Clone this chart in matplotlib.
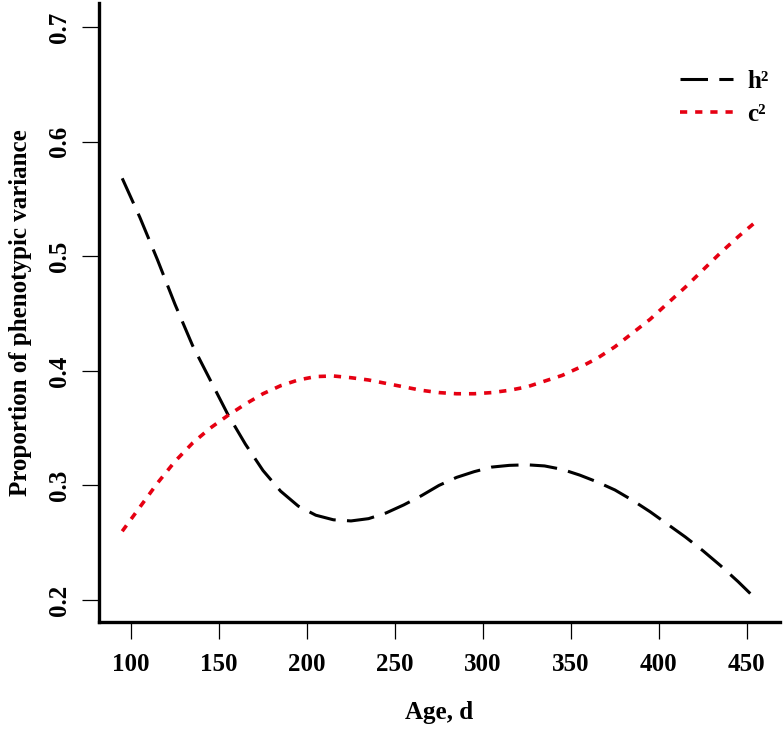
import matplotlib
matplotlib.use('Agg')
import matplotlib.pyplot as plt

# values
age = [95, 105, 115, 125, 135, 145, 155, 165, 175, 185, 195, 205, 215, 225,
       235, 245, 255, 265, 275, 285, 295, 305, 315, 325, 335, 345, 355, 365,
       375, 385, 395, 405, 415, 425, 435, 445, 455]
h2 = [0.568, 0.534, 0.497, 0.458, 0.422, 0.392, 0.362, 0.336, 0.313, 0.295,
      0.282, 0.274, 0.270, 0.269, 0.271, 0.276, 0.283, 0.291, 0.300, 0.307,
      0.312, 0.316, 0.3175, 0.318, 0.317, 0.314, 0.309, 0.303, 0.296, 0.287,
      0.277, 0.266, 0.255, 0.243, 0.230, 0.216, 0.201]
c2 = [0.260, 0.281, 0.302, 0.321, 0.337, 0.350, 0.361, 0.371, 0.380, 0.387,
      0.392, 0.395, 0.3955, 0.394, 0.392, 0.389, 0.386, 0.383, 0.381, 0.380,
      0.380, 0.381, 0.383, 0.386, 0.391, 0.396, 0.403, 0.411, 0.421, 0.433,
      0.445, 0.459, 0.473, 0.488, 0.503, 0.517, 0.530]
xticks = [100, 150, 200, 250, 300, 350, 400, 450]
yticks = [0.2, 0.3, 0.4, 0.5, 0.6, 0.7]

plt.rcParams['font.family'] = ['Liberation Serif', 'DejaVu Serif']
plt.rcParams['font.weight'] = 'bold'

fig = plt.figure(figsize=(7.84, 7.29), dpi=100)
ax = fig.add_axes([99/784, 1-622/729, 681/784, 619/729])

ax.plot(age, h2, color='black', lw=2.2, dashes=(9, 3.7), label='h\u00b2',
        solid_joinstyle='round', dash_joinstyle='round')
ax.plot(age, c2, color='#e60012', lw=2.6, dashes=(2, 2.2), label='c\u00b2',
        dash_joinstyle='round')

ax.set_xlim(81.8, 468.8)
ax.set_ylim(0.1808, 0.721)
ax.set_xticks(xticks)
ax.set_yticks(yticks)
ax.set_xticklabels([str(t) for t in xticks])
ax.set_yticklabels(['%.1f' % t for t in yticks], rotation=90, va='center')

for s in ['top', 'right']:
    ax.spines[s].set_visible(False)
for s in ['left', 'bottom']:
    ax.spines[s].set_linewidth(2.4)
ax.tick_params(axis='both', length=12, width=0.9, labelsize=18)
ax.tick_params(axis='x', pad=10)
ax.tick_params(axis='y', pad=8)

ax.set_xlabel('Age, d', fontsize=18, fontweight='bold', labelpad=18)
ax.set_ylabel('Proportion of phenotypic variance', fontsize=18,
              fontweight='bold', labelpad=12)

ax.legend(loc='upper left', bbox_to_anchor=(680/784, 1-70/729),
          bbox_transform=fig.transFigure, frameon=False, borderpad=0,
          borderaxespad=0, fontsize=18, handlelength=2.1, handletextpad=0.6,
          labelspacing=0.4)

fig.savefig('out.png', dpi=100)
